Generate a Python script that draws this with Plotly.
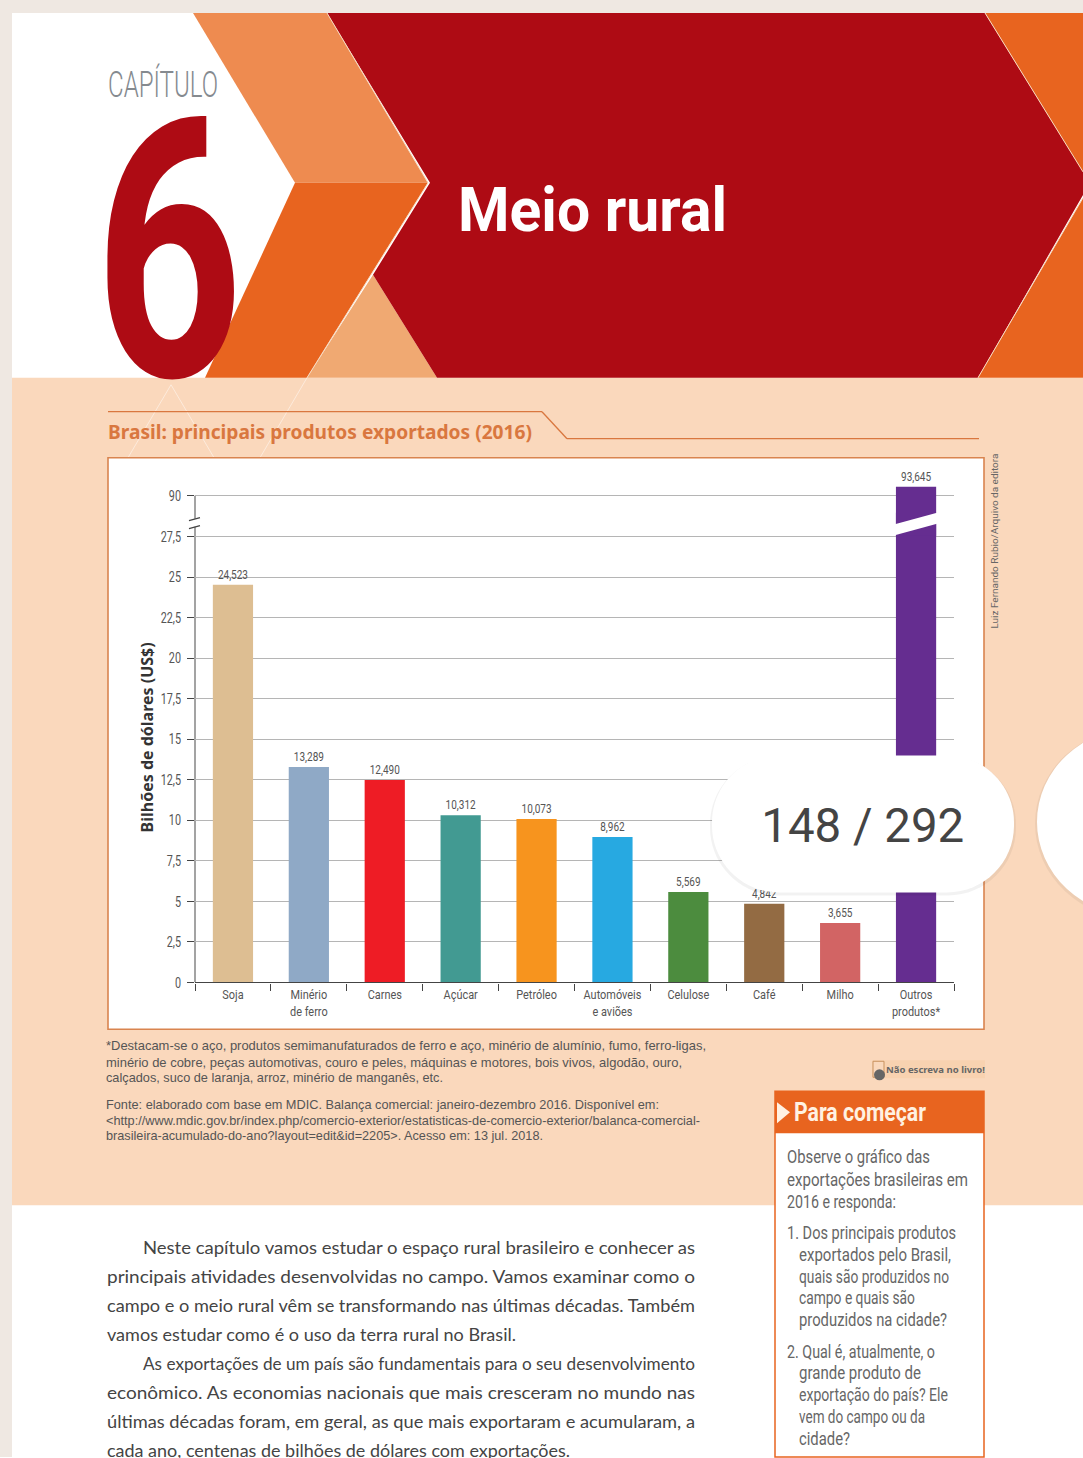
import json
import plotly.graph_objects as go

W, H = 1083, 1458
FIG_H = 1466  # the page lays the figure out 8px shorter than asked

categories = ["Soja", "Minério<br>de ferro", "Carnes", "Açúcar", "Petróleo",
              "Automóveis<br>e aviões", "Celulose", "Café", "Milho", "Outros<br>produtos*"]
values = [24.523, 13.289, 12.490, 10.312, 10.073, 8.962, 5.569, 4.842, 3.655, 93.645]
bar_colors = ["#DDBE92", "#8FA9C6", "#EE1C25", "#429A92", "#F7941E",
              "#27A9E1", "#4C8C3E", "#936B43", "#D26464", "#652D90"]
lower_ticks = [0, 2.5, 5, 7.5, 10, 12.5, 15, 17.5, 20, 22.5, 25, 27.5]
lower_labels = ["0", "2,5", "5", "7,5", "10", "12,5", "15", "17,5", "20", "22,5", "25", "27,5"]
upper_ticks = [90]
upper_labels = ["90"]

NARROW = "Roboto, sans-serif"
GREY = "#555555"
ORANGE = "#E8641F"
TITLE_OR = "#D9773F"
RED = "#AE0B14"
PEACH = "#FAD8BC"


def X(x):
    return x / W


def Y(y):
    return 1 - y / H


def poly(points, fill, line=None, lw=0, layer="below"):
    path = "M " + " L ".join(f"{X(a):.5f},{Y(b):.5f}" for a, b in points) + " Z"
    return dict(type="path", xref="paper", yref="paper", path=path, fillcolor=fill,
                line=dict(color=line or fill, width=lw), layer=layer)


def seg(x0, y0, x1, y1, color, lw=1, layer="below"):
    return dict(type="line", xref="paper", yref="paper", x0=X(x0), y0=Y(y0), x1=X(x1), y1=Y(y1),
                line=dict(color=color, width=lw), layer=layer)


def rect(x0, y0, x1, y1, fill, line=None, lw=0, layer="below"):
    return dict(type="rect", xref="paper", yref="paper", x0=X(x0), y0=Y(y0), x1=X(x1), y1=Y(y1),
                fillcolor=fill, line=dict(color=line or fill, width=lw), layer=layer)


def pill(x0, y0, x1, y1, r, fill, layer="above"):
    k = 0.5523 * r
    p = (f"M {X(x0+r):.5f},{Y(y0):.5f} L {X(x1-r):.5f},{Y(y0):.5f} "
         f"C {X(x1-r+k):.5f},{Y(y0):.5f} {X(x1):.5f},{Y(y0+r-k):.5f} {X(x1):.5f},{Y(y0+r):.5f} "
         f"L {X(x1):.5f},{Y(y1-r):.5f} "
         f"C {X(x1):.5f},{Y(y1-r+k):.5f} {X(x1-r+k):.5f},{Y(y1):.5f} {X(x1-r):.5f},{Y(y1):.5f} "
         f"L {X(x0+r):.5f},{Y(y1):.5f} "
         f"C {X(x0+r-k):.5f},{Y(y1):.5f} {X(x0):.5f},{Y(y1-r+k):.5f} {X(x0):.5f},{Y(y1-r):.5f} "
         f"L {X(x0):.5f},{Y(y0+r):.5f} "
         f"C {X(x0):.5f},{Y(y0+r-k):.5f} {X(x0+r-k):.5f},{Y(y0):.5f} {X(x0+r):.5f},{Y(y0):.5f} Z")
    return dict(type="path", xref="paper", yref="paper", path=p, fillcolor=fill,
                line=dict(width=0), layer=layer)


annotations = []
fit_widths = []


def txt(x, y, s, size, width, color=GREY, family=NARROW, anchor="left", angle=0, weight=400):
    fit_widths.append(width)
    annotations.append(dict(xref="paper", yref="paper", x=X(x), y=Y(y), text=s, showarrow=False,
                            xanchor=anchor, yanchor="middle", align=anchor if anchor != "middle" else "center",
                            font=dict(size=size, color=color, family=family, weight=weight),
                            textangle=angle, borderpad=0, borderwidth=0))


shapes = [
    rect(0, 0, W, H, "#EFE8E2"),
    rect(12, 13, W, H, "#FFFFFF"),
    rect(12, 378, W, 1206, PEACH),
    poly([(193, 13), (327, 13), (428, 183), (295, 183)], "#EE8B50"),
    poly([(295, 183), (428, 183), (307, 378), (205, 378)], ORANGE),
    poly([(373, 275), (437, 378), (307, 378)], "#F0A972"),
    poly([(327, 13), (985, 13), (1090, 183), (978, 378), (437, 378), (373, 275), (430, 183)], RED),
    poly([(985, 13), (W, 13), (W, 172)], ORANGE),
    poly([(W, 198), (W, 378), (978, 378)], ORANGE),
    seg(327, 13, 428, 183, "#F6D9BF"), seg(428, 183, 307, 378, "#F6D9BF"),
    seg(985, 13, W, 172, "#F6D9BF"), seg(W, 198, 978, 378, "#F6D9BF"),
    seg(171, 385, 128, 458, "#FDEBDC"), seg(171, 385, 214, 458, "#FDEBDC"),
    seg(307, 378, 260, 458, "#FDEBDC"),
    seg(108, 412, 542, 412, TITLE_OR, 1.3), seg(542, 412, 567, 439, TITLE_OR, 1.3),
    seg(567, 439, 979, 439, TITLE_OR, 1.3),
    rect(108, 458, 984, 1030, "#FFFFFF", "#D9844F", 1.6),
    # y axis line and its break marks
    seg(195, 527, 195, 983, "#666666", 1.2), seg(195, 496, 195, 519, "#666666", 1.2),
    seg(189, 521, 200, 518, "#444444", 1.2), seg(189, 529, 200, 526, "#444444", 1.2),
    # "Não escreva" icon and the "Para começar" box
    rect(872, 1061, 985, 1079, "#F8D2B0"),
    rect(873, 1062, 884, 1078, PEACH, "#C9925F", 1),
    dict(type="circle", xref="paper", yref="paper", x0=X(874), y0=Y(1070), x1=X(885), y1=Y(1081),
         fillcolor="#666666", line=dict(width=0), layer="below"),
    rect(775, 1092, 984, 1458, "#FFFFFF", ORANGE, 1.5),
    rect(775, 1092, 984, 1134, ORANGE),
    poly([(777, 1103), (790, 1113), (777, 1124)], "#FFF1E2"),
    # break in the purple bar
    poly([(893, 525), (937, 513), (937, 524), (893, 536)], "#FFFFFF", layer="above"),
    # page counter overlay
    pill(710, 757, 1016, 896, 68, "rgba(0,0,0,0.05)"),
    pill(712, 756, 1014, 893, 67, "#FFFFFF"),
    dict(type="circle", xref="paper", yref="paper", x0=X(1035), y0=Y(728), x1=X(1240), y1=Y(920),
         fillcolor="rgba(0,0,0,0.05)", line=dict(width=0), layer="above"),
    dict(type="circle", xref="paper", yref="paper", x0=X(1037), y0=Y(728), x1=X(1240), y1=Y(917),
         fillcolor="#FFFFFF", line=dict(width=0), layer="above"),
]

footnote = [(1047, 600, "*Destacam-se o aço, produtos semimanufaturados de ferro e aço, minério de alumínio, fumo, ferro-ligas,"),
            (1064, 576, "minério de cobre, peças automotivas, couro e peles, máquinas e motores, bois vivos, algodão, ouro,"),
            (1079, 337, "calçados, suco de laranja, arroz, minério de manganês, etc.")]
source = [(1106, 553, "Fonte: elaborado com base em MDIC. Balança comercial: janeiro-dezembro 2016. Disponível em:"),
          (1122, 594, "&lt;http://www.mdic.gov.br/index.php/comercio-exterior/estatisticas-de-comercio-exterior/balanca-comercial-"),
          (1137, 437, "brasileira-acumulado-do-ano?layout=edit&amp;id=2205&gt;. Acesso em: 13 jul. 2018.")]
body = [(143, 1248, 552, "Neste capítulo vamos estudar o espaço rural brasileiro e conhecer as"),
        (107, 1277, 588, "principais atividades desenvolvidas no campo. Vamos examinar como o"),
        (107, 1306, 588, "campo e o meio rural vêm se transformando nas últimas décadas. Também"),
        (107, 1335, 409, "vamos estudar como é o uso da terra rural no Brasil."),
        (143, 1364, 552, "As exportações de um país são fundamentais para o seu desenvolvimento"),
        (107, 1393, 588, "econômico. As economias nacionais que mais cresceram no mundo nas"),
        (107, 1422, 588, "últimas décadas foram, em geral, as que mais exportaram e acumularam, a"),
        (107, 1451, 463, "cada ano, centenas de bilhões de dólares com exportações.")]
box = [(787, 1157, 143, "Observe o gráfico das"), (787, 1180, 181, "exportações brasileiras em"),
       (787, 1202, 109, "2016 e responda:"), (787, 1233, 169, "1. Dos principais produtos"),
       (799, 1255, 152, "exportados pelo Brasil,"), (799, 1277, 150, "quais são produzidos no"),
       (799, 1298, 116, "campo e quais são"), (799, 1320, 148, "produzidos na cidade?"),
       (787, 1352, 148, "2. Qual é, atualmente, o"), (799, 1373, 122, "grande produto de"),
       (799, 1395, 149, "exportação do país? Ele"), (799, 1417, 126, "vem do campo ou da"),
       (799, 1439, 51, "cidade?")]

txt(108, 85, "CAPÍTULO", 36, 110, "#858A8F", weight=300)
txt(169, 252, "6", 362, 148, RED, anchor="center", weight=700)
txt(458, 210, "Meio rural", 62, 269, "#FFFFFF", weight=700)
txt(108, 432, "Brasil: principais produtos exportados (2016)", 20, 424, TITLE_OR, "Noto Sans, sans-serif", weight=700)
txt(147, 738, "Bilhões de dólares (US$)", 15.5, 190, "#333333", "Noto Sans, sans-serif", "center", -90, 700)
txt(995, 542, "Luiz Fernando Rubio/Arquivo da editora", 8.5, 175, "#666666", NARROW, "center", -90)
txt(886, 1070, "Não escreva no livro!", 9.5, 99, "#666666", "Noto Sans, sans-serif", weight=700)
txt(794, 1113, "Para começar", 25, 132, "#FFF1E2", weight=700)
txt(862, 826, "148 / 292", 48, 203, "#444444", "Roboto, sans-serif", "center")
for y, w, s in footnote + source:
    txt(106, y, s, 12.4, w, GREY, "Liberation Sans, sans-serif")
for x, y, w, s in body:
    txt(x, y, s, 18, w, "#444444", "Lato, Roboto, sans-serif")
for x, y, w, s in box:
    txt(x, y, s, 18, w, "#666666")

lower_text = [f"{v:.3f}".replace(".", ",") for v in values[:-1]] + [""]
fig = go.Figure()
fig.add_trace(go.Bar(x=categories, y=values, marker=dict(color=bar_colors, line=dict(width=0)),
                     text=lower_text, textposition="outside", cliponaxis=True,
                     textfont=dict(size=13, color=GREY, family=NARROW),
                     hoverinfo="skip", xaxis="x", yaxis="y"))
fig.add_trace(go.Bar(x=categories[-1:], y=values[-1:], marker=dict(color=bar_colors[-1:], line=dict(width=0)),
                     text=[f"{values[-1]:.3f}".replace(".", ",")], textposition="outside", cliponaxis=False,
                     textfont=dict(size=13, color=GREY, family=NARROW),
                     hoverinfo="skip", xaxis="x2", yaxis="y2"))

PX_LOW = 40.55 / 2.5      # pixels per unit, lower panel
PX_UP = 2.47              # pixels per unit, upper panel
BASE = 983
low_top = 513
up_bottom, up_top = 536, 480

fig.update_layout(
    width=W, height=FIG_H, margin=dict(l=0, r=0, t=0, b=0), autosize=False,
    paper_bgcolor="#FFFFFF", plot_bgcolor="rgba(0,0,0,0)", showlegend=False,
    bargap=0.47,
    shapes=shapes, annotations=annotations,
    xaxis=dict(domain=[X(195), X(954)], anchor="y", type="category", categoryorder="array",
               categoryarray=categories, tickson="boundaries", ticks="outside", ticklen=7,
               tickcolor="#444444", tickwidth=1.2, showline=True, linecolor="#444444", linewidth=1.4,
               showgrid=False, zeroline=False, tickangle=0,
               tickfont=dict(size=13, color=GREY, family=NARROW)),
    xaxis2=dict(domain=[X(195), X(954)], anchor="y2", matches="x", visible=False),
    yaxis=dict(domain=[Y(BASE), Y(low_top)], anchor="x", range=[0, (BASE - low_top) / PX_LOW],
               tickmode="array", tickvals=lower_ticks, ticktext=lower_labels, ticks="outside", ticklen=7,
               tickcolor="#444444", tickwidth=1.2, gridcolor="#B5B5B5", gridwidth=1.2, showline=False,
               zeroline=False, ticklabelstandoff=3, tickfont=dict(size=15, color=GREY, family=NARROW)),
    yaxis2=dict(domain=[Y(up_bottom), Y(up_top)], anchor="x2",
                range=[90 - (up_bottom - 496) / PX_UP, 90 + (496 - up_top) / PX_UP],
                tickmode="array", tickvals=upper_ticks, ticktext=upper_labels, ticks="outside", ticklen=7,
                tickcolor="#444444", tickwidth=1.2, gridcolor="#B5B5B5", gridwidth=1.2, showline=False,
                zeroline=False, ticklabelstandoff=3, tickfont=dict(size=15, color=GREY, family=NARROW)),
)

# The book's type is a condensed face that is not installed: squeeze the real text to the printed widths.
post = """
document.body.style.margin = '0';
var widths = %s;
function squeeze(el, len) {
  el.setAttribute('textLength', len);
  el.setAttribute('lengthAdjust', 'spacingAndGlyphs');
}
widths.forEach(function (w, i) {
  var t = document.querySelector('g.annotation[data-index="' + i + '"] text');
  if (t) squeeze(t, w);
});
function condense(selector, factor) {
  document.querySelectorAll(selector).forEach(function (t) {
    var lines = t.querySelectorAll('tspan.line');
    if (lines.length) {
      lines.forEach(function (l) { squeeze(l, l.getComputedTextLength() * factor); });
    } else {
      squeeze(t, t.getComputedTextLength() * factor);
    }
  });
}
condense('.xtick text', 0.84);
condense('.ytick text', 0.72);
condense('.y2tick text', 0.72);
condense('.bartext', 0.77);
""" % json.dumps(fit_widths)

fig.write_html("out.html", post_script=post, default_width=f"{W}px", default_height=f"{FIG_H}px",
               config={"responsive": False, "displayModeBar": False})
